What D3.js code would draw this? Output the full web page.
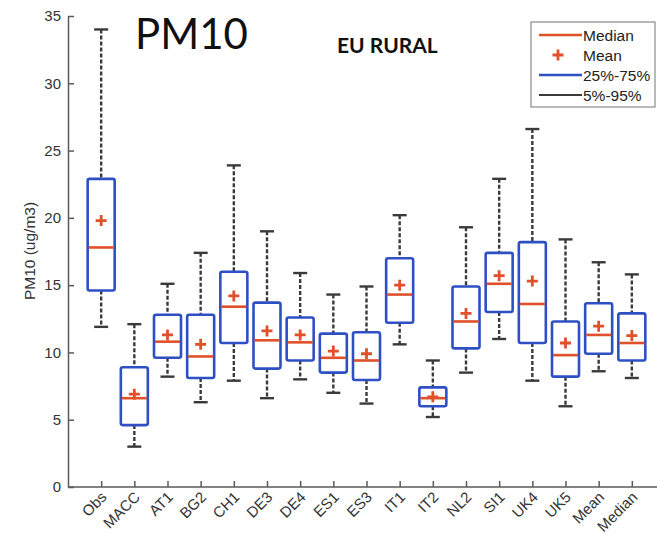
<!DOCTYPE html>
<html>
<head>
<meta charset="utf-8">
<script src="https://cdn.jsdelivr.net/npm/d3@7"></script>
<style>
  body { margin: 0; background: #fff; }
  svg { display: block; }
</style>
</head>
<body>
<div id="plot"></div>
<script>
var width = 657;
var height = 534;

// data
var stations = ['Obs', 'MACC', 'AT1', 'BG2', 'CH1', 'DE3', 'DE4', 'ES1', 'ES3', 'IT1', 'IT2', 'NL2', 'SI1', 'UK4', 'UK5', 'Mean', 'Median'];
var p05    = [11.9, 3.0, 8.2, 6.3, 7.9, 6.6, 8.0, 7.0, 6.2, 10.6, 5.2, 8.5, 11.0, 7.9, 6.0, 8.6, 8.1];
var p25    = [14.6, 4.6, 9.6, 8.1, 10.7, 8.8, 9.4, 8.5, 7.95, 12.2, 6.0, 10.3, 13.0, 10.7, 8.2, 9.9, 9.4];
var median = [17.8, 6.6, 10.8, 9.7, 13.4, 10.9, 10.75, 9.6, 9.4, 14.3, 6.6, 12.3, 15.1, 13.6, 9.8, 11.3, 10.7];
var mean   = [19.8, 6.9, 11.3, 10.6, 14.2, 11.6, 11.3, 10.1, 9.9, 15.0, 6.7, 12.9, 15.7, 15.3, 10.7, 11.95, 11.25];
var p75    = [22.9, 8.9, 12.8, 12.8, 16.0, 13.7, 12.6, 11.4, 11.5, 17.0, 7.4, 14.9, 17.4, 18.2, 12.3, 13.65, 12.9];
var p95    = [34.0, 12.1, 15.1, 17.4, 23.9, 19.0, 15.9, 14.3, 14.9, 20.2, 9.4, 19.3, 22.9, 26.6, 18.4, 16.7, 15.8];
var yTicks = [0, 5, 10, 15, 20, 25, 30, 35];
var legendItems = ['Median', 'Mean', '25%-75%', '5%-95%'];

var blue = '#2f4fc4';
var red = '#e0502a';
var dark = '#3a3a3a';
var axisColor = '#5a5a5a';
var font = 'Liberation Sans, Arial, sans-serif';

var rows = stations.map(function(s, i) {
    return { name: s, lo: p05[i], q1: p25[i], med: median[i], mean: mean[i], q3: p75[i], hi: p95[i] };
});

var svg = d3.select('#plot')
    .append('svg')
    .attr('width', width)
    .attr('height', height);

var padLeft = 68, padTop = 16, axisY = 487;

var x = d3.scalePoint()
    .domain(stations)
    .range([padLeft, 665])
    .padding(1);

var y = d3.scaleLinear()
    .domain([0, 35])
    .range([axisY, padTop]);

var boxW = 27;
var capW = 14;

// axes
var yAxis = svg.append('g')
    .attr('transform', 'translate(' + padLeft + ',0)')
    .call(d3.axisLeft(y).tickValues(yTicks).tickSizeInner(-6).tickSizeOuter(0).tickPadding(7));
yAxis.select('.domain').attr('stroke', axisColor).attr('stroke-width', 1.5);
yAxis.selectAll('.tick line').attr('stroke', axisColor).attr('stroke-width', 1.5);
yAxis.selectAll('.tick text')
    .attr('fill', '#333')
    .style('font-family', font)
    .style('font-size', '15px');

svg.append('line')
    .attr('x1', padLeft).attr('x2', width)
    .attr('y1', axisY).attr('y2', axisY)
    .attr('stroke', axisColor).attr('stroke-width', 1.5);

var xAxis = svg.append('g')
    .attr('transform', 'translate(0,' + axisY + ')')
    .call(d3.axisBottom(x).tickSizeInner(-6).tickSizeOuter(0));
xAxis.select('.domain').remove();
xAxis.selectAll('.tick line').attr('stroke', axisColor).attr('stroke-width', 1.5);
xAxis.selectAll('.tick text')
    .attr('fill', '#333')
    .attr('text-anchor', 'end')
    .attr('dy', 0)
    .attr('y', 0)
    .attr('transform', 'translate(6,11) rotate(-45)')
    .style('font-family', font)
    .style('font-size', '15px');

svg.append('text')
    .attr('transform', 'translate(35,251) rotate(-90)')
    .attr('text-anchor', 'middle')
    .attr('fill', '#333')
    .style('font-family', font)
    .style('font-size', '15.5px')
    .text('PM10 (ug/m3)');

// boxes
var g = svg.selectAll('g.box')
    .data(rows)
    .enter()
    .append('g')
    .attr('class', 'box')
    .attr('transform', function(d) { return 'translate(' + x(d.name) + ',0)'; });

g.append('line')
    .attr('y1', function(d) { return y(d.hi); })
    .attr('y2', function(d) { return y(d.q3); })
    .attr('stroke', dark).attr('stroke-width', 2.4).attr('stroke-dasharray', '4,2');
g.append('line')
    .attr('y1', function(d) { return y(d.q1); })
    .attr('y2', function(d) { return y(d.lo); })
    .attr('stroke', dark).attr('stroke-width', 2.4).attr('stroke-dasharray', '4,2');
g.append('line')
    .attr('x1', -capW / 2).attr('x2', capW / 2)
    .attr('y1', function(d) { return y(d.hi); })
    .attr('y2', function(d) { return y(d.hi); })
    .attr('stroke', dark).attr('stroke-width', 2.4);
g.append('line')
    .attr('x1', -capW / 2).attr('x2', capW / 2)
    .attr('y1', function(d) { return y(d.lo); })
    .attr('y2', function(d) { return y(d.lo); })
    .attr('stroke', dark).attr('stroke-width', 2.4);
g.append('rect')
    .attr('x', -boxW / 2)
    .attr('width', boxW)
    .attr('y', function(d) { return y(d.q3); })
    .attr('height', function(d) { return y(d.q1) - y(d.q3); })
    .attr('rx', 2)
    .attr('fill', 'none')
    .attr('stroke', blue).attr('stroke-width', 2.6);
g.append('line')
    .attr('x1', -boxW / 2 + 1).attr('x2', boxW / 2 - 1)
    .attr('y1', function(d) { return y(d.med); })
    .attr('y2', function(d) { return y(d.med); })
    .attr('stroke', red).attr('stroke-width', 2.6);
g.append('path')
    .attr('d', function(d) {
        var cy = y(d.mean);
        return 'M-5.5,' + cy + 'H5.5M0,' + (cy - 5.5) + 'V' + (cy + 5.5);
    })
    .attr('stroke', red).attr('stroke-width', 2.8);

// titles
svg.append('text')
    .attr('x', 135).attr('y', 49)
    .attr('fill', '#111')
    .style('font-family', 'Lato, sans-serif')
    .style('font-size', '42px')
    .text('PM10');
svg.append('text')
    .attr('x', 337).attr('y', 53)
    .attr('fill', '#111')
    .style('font-family', 'Lato, sans-serif')
    .style('font-weight', 'bold')
    .style('font-size', '21px')
    .text('EU RURAL');

// legend
var lg = svg.append('g').attr('transform', 'translate(531,22)');
lg.append('rect')
    .attr('width', 124).attr('height', 85)
    .attr('fill', '#fff')
    .attr('stroke', '#8a8a8a').attr('stroke-width', 1.2);
var ly = d3.scalePoint().domain(legendItems).range([13, 73]);
legendItems.forEach(function(name, i) {
    var yy = ly(name);
    if (name === 'Mean') {
        lg.append('path')
            .attr('d', 'M21.5,' + yy + 'H32.5M27,' + (yy - 5.5) + 'V' + (yy + 5.5))
            .attr('stroke', red).attr('stroke-width', 2.8);
    } else {
        lg.append('line')
            .attr('x1', 8).attr('x2', 51)
            .attr('y1', yy).attr('y2', yy)
            .attr('stroke', name === 'Median' ? red : (name === '25%-75%' ? blue : dark))
            .attr('stroke-width', name === '5%-95%' ? 2 : 2.6);
    }
    lg.append('text')
        .attr('x', 52).attr('y', yy + 5.5)
        .attr('fill', '#222')
        .style('font-family', font)
        .style('font-size', '15.5px')
        .text(name);
});
</script>
</body>
</html>
